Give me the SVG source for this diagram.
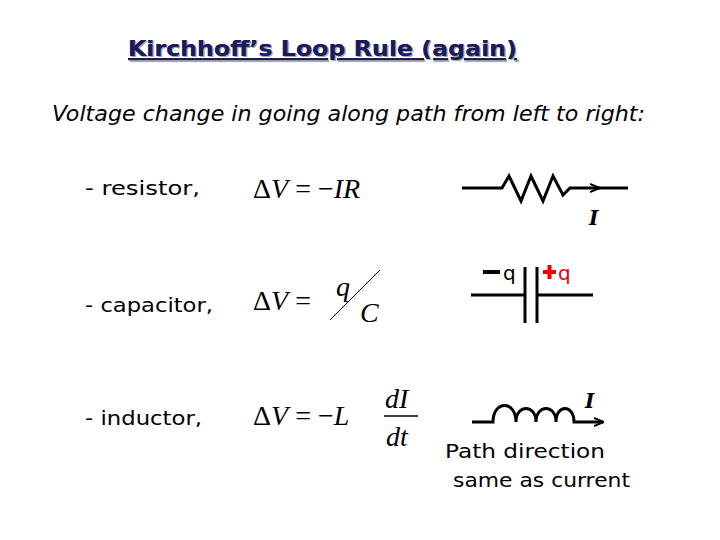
<svg xmlns="http://www.w3.org/2000/svg" width="720" height="540" viewBox="0 0 720 540">
<style>
.t{font-family:"DejaVu Sans",sans-serif;fill:#000}
.m{font-family:"Liberation Serif",serif;font-size:28px;fill:#000}
.w{stroke:#000;stroke-width:3;fill:none}
</style>
<defs><marker id="a" markerWidth="10" markerHeight="10" refX="9" refY="5" orient="auto" markerUnits="userSpaceOnUse"><path d="M0,1 L10,5 L0,9" fill="none" stroke="#000" stroke-width="2"/></marker></defs>
<rect width="720" height="540" fill="#fff"/>
<text class="t" x="128" y="56" font-size="21" font-weight="bold" textLength="389" lengthAdjust="spacingAndGlyphs" style="fill:#1a1a5e;text-decoration:underline;text-shadow:1px 1px #aaa">Kirchhoff’s Loop Rule (again)</text>
<text class="t" x="52" y="121" font-size="21" font-style="italic" textLength="593" lengthAdjust="spacingAndGlyphs">Voltage change in going along path from left to right:</text>
<g id="resistor">
<text class="t" x="85" y="195" font-size="19" textLength="115" lengthAdjust="spacingAndGlyphs">- resistor,</text>
<text class="m" x="253" y="198">Δ<tspan font-style="italic">V</tspan> = −<tspan font-style="italic">IR</tspan></text>
<path class="w" d="M462,188 H502 L509,176 L521,201 L531,176 L543,201 L553,176 L563,195 L570,188 H599" marker-end="url(#a)"/>
<path class="w" d="M595,188 H628"/>
<text x="589" y="225" font-family="DejaVu Serif,serif" font-size="20" font-weight="bold" font-style="italic">I</text>
</g>
<g id="capacitor">
<text class="t" x="85" y="312" font-size="19" textLength="128" lengthAdjust="spacingAndGlyphs">- capacitor,</text>
<text class="m" x="253" y="310">Δ<tspan font-style="italic">V</tspan> = </text>
<text class="m" x="336" y="296" font-style="italic">q</text>
<line x1="330" y1="320" x2="380" y2="270" stroke="#000" stroke-width="1"/>
<text class="m" x="360" y="322" font-style="italic">C</text>
<path class="w" d="M471,295 H525 M525,267 V323 M537,267 V323 M537,295 H593"/>
<line x1="483" y1="272" x2="500" y2="272" stroke="#000" stroke-width="4"/>
<text class="t" x="503" y="280" font-size="20">q</text>
<path d="M543,272 H556 M549.5,265 V279" stroke="#e00" stroke-width="4"/>
<text class="t" x="558" y="280" font-size="20" style="fill:#e00">q</text>
</g>
<g id="inductor">
<text class="t" x="85" y="425" font-size="19" textLength="117" lengthAdjust="spacingAndGlyphs">- inductor,</text>
<text class="m" x="253" y="425">Δ<tspan font-style="italic">V</tspan> = −<tspan font-style="italic">L</tspan></text>
<text class="m" x="385" y="408" font-style="italic">dI</text>
<line x1="384" y1="416" x2="418" y2="416" stroke="#000" stroke-width="1.5"/>
<text class="m" x="386" y="446" font-style="italic">dt</text>
<path class="w" d="M472,422 H493 C493,400 516,400 516,422 C516,404 536,404 536,422 C536,404 556,404 556,422 C556,404 574,404 574,422 H603" marker-end="url(#a)"/>
<text x="585" y="408" font-family="DejaVu Serif,serif" font-size="20" font-weight="bold" font-style="italic">I</text>
<text class="t" x="445" y="458" font-size="20" textLength="160" lengthAdjust="spacingAndGlyphs">Path direction</text>
<text class="t" x="453" y="487" font-size="20" textLength="177" lengthAdjust="spacingAndGlyphs">same as current</text>
</g>
</svg>
